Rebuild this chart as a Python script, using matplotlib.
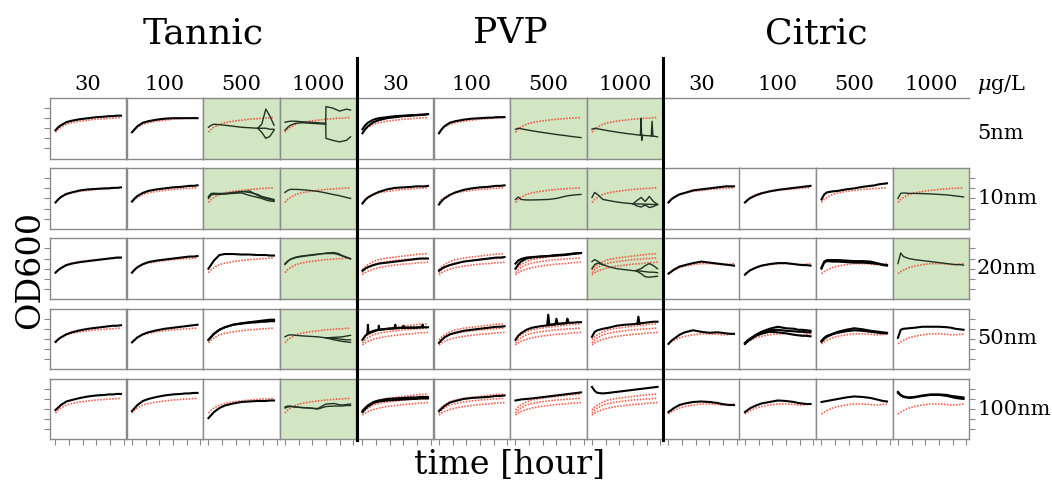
import numpy as np
import matplotlib
matplotlib.use('Agg')
import matplotlib.pyplot as plt
from matplotlib.lines import Line2D

plt.rcParams['font.family'] = 'DejaVu Serif'
plt.rcParams['mathtext.fontset'] = 'dejavuserif'

# sampling times (hours) shared by most curves
T = [0, 1, 2, 4, 6, 9, 12, 15, 18, 19.5, 21, 22.5, 24]

groups = ['Tannic', 'PVP', 'Citric']
doses = ['30', '100', '500', '1000']
sizes = ['5nm', '10nm', '20nm', '50nm', '100nm']

# control (no particles), drawn dotted red
ctrl_mid = [0.26, 0.29, 0.31, 0.34, 0.355, 0.37, 0.38, 0.39, 0.395, 0.40, 0.40, 0.405, 0.405]
ctrl_high = [0.29, 0.32, 0.34, 0.37, 0.39, 0.405, 0.415, 0.425, 0.435, 0.44, 0.445, 0.445, 0.45]
ctrl_low = [0.24, 0.26, 0.275, 0.295, 0.31, 0.325, 0.335, 0.345, 0.35, 0.355, 0.36, 0.36, 0.365]
ctrl_citric = [0.25, 0.27, 0.285, 0.31, 0.325, 0.34, 0.35, 0.35, 0.345, 0.34, 0.34, 0.345, 0.35]

ctrl_rows = {
    'Tannic': ['mid', 'mid', 'mid', 'mid', 'mid'],
    'PVP': ['mid', 'mid', 'spread', 'spread', 'spread'],
    'Citric': [None, 'mid', 'hump', 'hump', 'hump'],
}

# treated cultures: one list per panel, curves either on T or given as (times, values)
tannic_5nm = [
    [[0.28, 0.31, 0.33, 0.36, 0.375, 0.39, 0.40, 0.41, 0.415, 0.42, 0.42, 0.425, 0.425]],
    [[0.26, 0.29, 0.32, 0.355, 0.37, 0.385, 0.395, 0.40, 0.40, 0.40, 0.40, 0.40, 0.40]],
    [[0.31, 0.33, 0.34, 0.335, 0.33, 0.32, 0.31, 0.305, 0.30, 0.30, 0.30, 0.29, 0.29],
     ([18, 19.5, 21, 22.5, 24], [0.30, 0.34, 0.49, 0.42, 0.33]),
     ([18, 19.5, 21, 22.5, 24], [0.30, 0.26, 0.20, 0.22, 0.28])],
    [([0, 1, 2, 4, 6, 9, 12, 14.9, 15, 17.5, 20, 22.5, 24],
      [0.36, 0.365, 0.37, 0.37, 0.365, 0.36, 0.355, 0.35, 0.515, 0.50, 0.47, 0.49, 0.48]),
     ([14.9, 15, 17.5, 20, 22.5, 24], [0.35, 0.20, 0.18, 0.165, 0.18, 0.215]),
     ([0, 1, 2, 4, 6, 9, 12, 14.9], [0.28, 0.31, 0.33, 0.35, 0.355, 0.35, 0.345, 0.34])],
]
tannic_10nm = [
    [[0.26, 0.29, 0.315, 0.345, 0.36, 0.38, 0.39, 0.395, 0.40, 0.40, 0.405, 0.405, 0.41]],
    [[0.27, 0.30, 0.325, 0.355, 0.375, 0.39, 0.40, 0.41, 0.415, 0.42, 0.425, 0.425, 0.43]],
    [[0.31, 0.35, 0.35, 0.345, 0.345, 0.355, 0.37, 0.36, 0.34, 0.32, 0.31, 0.30, 0.29],
     [0.30, 0.335, 0.34, 0.34, 0.345, 0.35, 0.355, 0.33, 0.31, 0.30, 0.285, 0.275, 0.27],
     [0.32, 0.345, 0.35, 0.35, 0.35, 0.36, 0.365, 0.375, 0.33, 0.31, 0.30, 0.29, 0.28]],
    [[0.36, 0.38, 0.39, 0.39, 0.387, 0.38, 0.37, 0.355, 0.337, 0.33, 0.32, 0.31, 0.30]],
]
tannic_20nm = [
    [[0.26, 0.285, 0.305, 0.335, 0.35, 0.365, 0.375, 0.385, 0.395, 0.40, 0.405, 0.41, 0.41]],
    [[0.26, 0.29, 0.315, 0.345, 0.365, 0.38, 0.39, 0.40, 0.41, 0.415, 0.42, 0.42, 0.425]],
    [[0.30, 0.34, 0.38, 0.435, 0.445, 0.445, 0.44, 0.44, 0.435, 0.435, 0.435, 0.43, 0.43]],
    [[0.34, 0.37, 0.39, 0.41, 0.42, 0.43, 0.44, 0.455, 0.46, 0.45, 0.43, 0.415, 0.40],
     [0.35, 0.375, 0.395, 0.415, 0.425, 0.435, 0.445, 0.45, 0.45, 0.44, 0.425, 0.41, 0.395]],
]
tannic_50nm = [
    [[0.27, 0.295, 0.315, 0.345, 0.365, 0.385, 0.40, 0.41, 0.42, 0.425, 0.43, 0.43, 0.435]],
    [[0.265, 0.29, 0.315, 0.345, 0.365, 0.385, 0.40, 0.41, 0.42, 0.425, 0.43, 0.435, 0.44]],
    [[0.29, 0.32, 0.35, 0.39, 0.415, 0.44, 0.45, 0.46, 0.465, 0.47, 0.47, 0.475, 0.475],
     [0.29, 0.32, 0.35, 0.39, 0.415, 0.44, 0.455, 0.465, 0.475, 0.48, 0.485, 0.49, 0.49]],
    [[0.32, 0.335, 0.34, 0.335, 0.33, 0.325, 0.32, 0.31, 0.305, 0.30, 0.295, 0.29, 0.29],
     ([15, 18, 21, 24], [0.31, 0.315, 0.32, 0.335]),
     ([15, 18, 21, 24], [0.31, 0.29, 0.275, 0.265])],
]
tannic_100nm = [
    [[0.29, 0.315, 0.34, 0.375, 0.39, 0.41, 0.425, 0.435, 0.44, 0.445, 0.445, 0.45, 0.45]],
    [[0.28, 0.31, 0.34, 0.38, 0.40, 0.42, 0.435, 0.445, 0.45, 0.455, 0.455, 0.46, 0.46]],
    [[0.21, 0.24, 0.27, 0.31, 0.335, 0.355, 0.37, 0.375, 0.38, 0.38, 0.38, 0.385, 0.385]],
    [[0.32, 0.33, 0.33, 0.32, 0.315, 0.31, 0.30, 0.325, 0.33, 0.33, 0.33, 0.335, 0.335],
     [0.31, 0.32, 0.325, 0.32, 0.315, 0.31, 0.305, 0.35, 0.355, 0.345, 0.34, 0.345, 0.35]],
]

pvp_5nm = [
    [[0.29, 0.33, 0.355, 0.385, 0.40, 0.41, 0.42, 0.425, 0.43, 0.43, 0.435, 0.435, 0.44],
     [0.25, 0.29, 0.32, 0.36, 0.38, 0.40, 0.41, 0.42, 0.425, 0.43, 0.43, 0.435, 0.44]],
    [[0.25, 0.29, 0.32, 0.355, 0.37, 0.385, 0.395, 0.40, 0.405, 0.405, 0.41, 0.41, 0.41]],
    [[0.29, 0.30, 0.295, 0.285, 0.275, 0.262, 0.25, 0.238, 0.228, 0.222, 0.217, 0.212, 0.207]],
    [[0.29, 0.30, 0.295, 0.285, 0.275, 0.262, 0.25, 0.24, 0.23, 0.228, 0.225, 0.222, 0.215],
     ([17.7, 18, 18.2, 18.5], [0.23, 0.40, 0.18, 0.23]),
     ([21.7, 22, 22.3], [0.225, 0.37, 0.222])],
]
pvp_10nm = [
    [[0.25, 0.285, 0.31, 0.34, 0.365, 0.39, 0.405, 0.41, 0.415, 0.42, 0.42, 0.42, 0.425]],
    [[0.24, 0.275, 0.30, 0.335, 0.36, 0.385, 0.40, 0.41, 0.415, 0.42, 0.425, 0.425, 0.43]],
    [[0.29, 0.315, 0.29, 0.285, 0.285, 0.287, 0.29, 0.30, 0.32, 0.328, 0.333, 0.337, 0.34]],
    [[0.31, 0.36, 0.34, 0.29, 0.28, 0.265, 0.255, 0.247, 0.245, 0.243, 0.242, 0.24, 0.24],
     ([15, 16.5, 18, 19.5, 21, 22.5, 24], [0.247, 0.28, 0.31, 0.27, 0.32, 0.27, 0.24]),
     ([15, 16.5, 18, 19.5, 21, 22.5, 24], [0.247, 0.225, 0.215, 0.235, 0.21, 0.22, 0.24])],
]
pvp_20nm = [
    [[0.28, 0.30, 0.315, 0.335, 0.35, 0.36, 0.37, 0.38, 0.39, 0.395, 0.40, 0.40, 0.40]],
    [[0.28, 0.30, 0.315, 0.335, 0.35, 0.37, 0.38, 0.39, 0.40, 0.405, 0.41, 0.41, 0.415]],
    [[0.30, 0.34, 0.37, 0.40, 0.41, 0.42, 0.425, 0.435, 0.44, 0.445, 0.45, 0.455, 0.455],
     [0.35, 0.38, 0.395, 0.41, 0.415, 0.42, 0.425, 0.43, 0.435, 0.44, 0.445, 0.45, 0.455]],
    [[0.37, 0.39, 0.375, 0.34, 0.32, 0.30, 0.29, 0.28, 0.275, 0.27, 0.265, 0.265, 0.26],
     ([0, 1, 2, 4], [0.30, 0.34, 0.355, 0.34]),
     ([16, 18, 19.5, 21, 22.5, 24], [0.28, 0.30, 0.33, 0.35, 0.33, 0.30]),
     ([16, 18, 19.5, 21, 22.5, 24], [0.28, 0.25, 0.22, 0.215, 0.22, 0.225])],
]
pvp_50nm = [
    [[0.29, 0.33, 0.355, 0.38, 0.39, 0.40, 0.405, 0.41, 0.41, 0.41, 0.415, 0.415, 0.415],
     ([1.8, 2, 2.2, 5.8, 6, 6.2, 11.8, 12, 12.2, 14.8, 15, 15.2, 21.8, 22, 22.2],
      [0.35, 0.44, 0.355, 0.39, 0.43, 0.39, 0.405, 0.44, 0.405, 0.41, 0.43, 0.41, 0.415, 0.44, 0.415])],
    [[0.26, 0.29, 0.315, 0.345, 0.36, 0.38, 0.39, 0.40, 0.41, 0.415, 0.42, 0.42, 0.425]],
    [[0.29, 0.33, 0.355, 0.39, 0.41, 0.425, 0.435, 0.445, 0.455, 0.46, 0.46, 0.465, 0.465],
     ([11.6, 12, 12.4, 14.6, 15, 15.4, 18.6, 19, 19.4],
      [0.435, 0.54, 0.44, 0.445, 0.50, 0.45, 0.455, 0.50, 0.46])],
    [[0.32, 0.37, 0.385, 0.40, 0.41, 0.43, 0.44, 0.445, 0.455, 0.46, 0.465, 0.47, 0.47],
     ([16.6, 17, 17.4], [0.45, 0.52, 0.45])],
]
pvp_100nm = [
    [[0.28, 0.31, 0.335, 0.37, 0.385, 0.40, 0.405, 0.41, 0.415, 0.415, 0.42, 0.42, 0.42],
     [0.27, 0.30, 0.325, 0.36, 0.375, 0.385, 0.39, 0.395, 0.40, 0.40, 0.405, 0.405, 0.405]],
    [[0.28, 0.305, 0.33, 0.365, 0.38, 0.40, 0.41, 0.415, 0.42, 0.425, 0.43, 0.43, 0.435]],
    [[0.385, 0.39, 0.395, 0.40, 0.405, 0.415, 0.425, 0.435, 0.445, 0.45, 0.455, 0.46, 0.465]],
    [[0.52, 0.48, 0.46, 0.455, 0.46, 0.47, 0.48, 0.49, 0.50, 0.505, 0.51, 0.515, 0.52]],
]

citric_10nm = [
    [[0.26, 0.29, 0.31, 0.34, 0.355, 0.38, 0.39, 0.40, 0.41, 0.415, 0.42, 0.42, 0.42]],
    [[0.26, 0.285, 0.305, 0.33, 0.35, 0.37, 0.385, 0.395, 0.405, 0.41, 0.415, 0.42, 0.425]],
    [[0.29, 0.34, 0.36, 0.37, 0.375, 0.39, 0.40, 0.415, 0.425, 0.43, 0.44, 0.445, 0.45]],
    [[0.30, 0.35, 0.355, 0.35, 0.35, 0.348, 0.345, 0.34, 0.335, 0.33, 0.325, 0.32, 0.315]],
]
citric_20nm = [
    [[0.25, 0.27, 0.29, 0.32, 0.335, 0.355, 0.37, 0.36, 0.35, 0.345, 0.34, 0.335, 0.33]],
    [[0.24, 0.265, 0.285, 0.31, 0.33, 0.345, 0.355, 0.355, 0.345, 0.34, 0.335, 0.335, 0.33]],
    [[0.31, 0.37, 0.385, 0.385, 0.385, 0.38, 0.375, 0.375, 0.37, 0.36, 0.35, 0.34, 0.335],
     [0.30, 0.36, 0.375, 0.37, 0.37, 0.365, 0.36, 0.36, 0.355, 0.35, 0.345, 0.335, 0.33]],
    [[0.35, 0.455, 0.42, 0.40, 0.39, 0.38, 0.37, 0.36, 0.35, 0.345, 0.34, 0.34, 0.335]],
]
citric_50nm = [
    [[0.25, 0.28, 0.30, 0.34, 0.365, 0.385, 0.37, 0.36, 0.365, 0.36, 0.355, 0.35, 0.35]],
    [[0.26, 0.285, 0.305, 0.34, 0.37, 0.40, 0.42, 0.405, 0.40, 0.39, 0.39, 0.385, 0.38],
     [0.25, 0.28, 0.30, 0.335, 0.36, 0.385, 0.39, 0.38, 0.375, 0.37, 0.37, 0.365, 0.365],
     [0.25, 0.275, 0.295, 0.33, 0.35, 0.37, 0.365, 0.355, 0.34, 0.335, 0.33, 0.33, 0.325]],
    [[0.28, 0.31, 0.33, 0.35, 0.37, 0.39, 0.405, 0.395, 0.38, 0.375, 0.37, 0.365, 0.36],
     [0.27, 0.30, 0.32, 0.345, 0.36, 0.375, 0.385, 0.38, 0.37, 0.365, 0.36, 0.355, 0.355]],
    [[0.31, 0.39, 0.40, 0.405, 0.41, 0.42, 0.42, 0.42, 0.415, 0.41, 0.40, 0.395, 0.39]],
]
citric_100nm = [
    [[0.27, 0.29, 0.31, 0.34, 0.355, 0.37, 0.375, 0.37, 0.36, 0.35, 0.345, 0.34, 0.34]],
    [[0.27, 0.29, 0.31, 0.335, 0.355, 0.37, 0.385, 0.38, 0.37, 0.36, 0.355, 0.35, 0.35]],
    [[0.37, 0.375, 0.38, 0.39, 0.40, 0.415, 0.425, 0.42, 0.41, 0.40, 0.39, 0.38, 0.375]],
    [[0.47, 0.44, 0.425, 0.415, 0.42, 0.435, 0.445, 0.445, 0.44, 0.43, 0.425, 0.42, 0.415],
     [0.46, 0.435, 0.42, 0.41, 0.415, 0.43, 0.44, 0.44, 0.43, 0.42, 0.41, 0.405, 0.40]],
]

panel_data = {
    'Tannic': [tannic_5nm, tannic_10nm, tannic_20nm, tannic_50nm, tannic_100nm],
    'PVP': [pvp_5nm, pvp_10nm, pvp_20nm, pvp_50nm, pvp_100nm],
    'Citric': [None, citric_10nm, citric_20nm, citric_50nm, citric_100nm],
}

# panels highlighted in green
shaded = [('5nm', 'Tannic', '500'), ('5nm', 'Tannic', '1000'), ('5nm', 'PVP', '500'), ('5nm', 'PVP', '1000'),
          ('10nm', 'Tannic', '500'), ('10nm', 'Tannic', '1000'), ('10nm', 'PVP', '500'),
          ('10nm', 'PVP', '1000'), ('10nm', 'Citric', '1000'),
          ('20nm', 'Tannic', '1000'), ('20nm', 'PVP', '1000'), ('20nm', 'Citric', '1000'),
          ('50nm', 'Tannic', '1000'), ('100nm', 'Tannic', '1000')]

#===================================================================================================
W, H = 1052, 482
fig = plt.figure(figsize=(W / 100, H / 100), dpi=100)

def fx(x):
    return x / W

def fy(y):
    return 1 - y / H

group_x0 = [50, 357, 663]
pw, ph = 76.5, 60.5
row_top = [98, 168.2, 238.4, 308.6, 378.8]
green = '#d2e6c4'
red = '#f04a34'
edge = '#8a8a8a'

for gi, g in enumerate(groups):
    for ri, size in enumerate(sizes):
        rows = panel_data[g][ri]
        if rows is None:
            continue
        kind = ctrl_rows[g][ri]
        if kind == 'spread':
            ctrls = [ctrl_high, ctrl_mid, ctrl_low]
        elif kind == 'hump':
            ctrls = [ctrl_citric]
        else:
            ctrls = [ctrl_mid]
        for ci, dose in enumerate(doses):
            x0 = group_x0[gi] + ci * pw
            ax = fig.add_axes([fx(x0), fy(row_top[ri] + ph), pw / W, ph / H])
            hl = (size, g, dose) in shaded
            ax.set_facecolor(green if hl else 'white')
            for c in ctrls:
                ax.plot(T, c, color=red, ls=(0, (1, 0.8)), lw=1.2, alpha=0.85, zorder=2)
            for curve in rows[ci]:
                if isinstance(curve, tuple):
                    t, v = curve
                else:
                    t, v = T, curve
                if hl:
                    ax.plot(t, v, color='#223222', lw=1.0, zorder=3)
                else:
                    ax.plot(t, v, color='black', lw=1.5, zorder=3)
            ax.set_xlim(-2, 26)
            ax.set_ylim(0, 0.6)
            for s in ax.spines.values():
                s.set_color(edge)
                s.set_linewidth(1.0)
            ax.set_xticks([0, 5, 10, 15, 20, 25] if ri == len(sizes) - 1 else [])
            left = (gi == 0 and ci == 0)
            right = (gi == 2 and ci == 3)
            ax.set_yticks([0.1, 0.2, 0.3, 0.4, 0.5] if (left or right) else [])
            ax.tick_params(axis='both', length=4, width=0.8, color=edge,
                           labelbottom=False, labelleft=False, labelright=False,
                           left=left, right=right)

# empty Citric 5nm row: only its top rule
fig.add_artist(Line2D([fx(663), fx(969)], [fy(98), fy(98)], color=edge, lw=1.0))

# heavy separators between particle coatings
for xs in [356.5, 662.5]:
    fig.add_artist(Line2D([fx(xs), fx(xs)], [fy(58), fy(440)], color='black', lw=2.2))

for gi, g in enumerate(groups):
    xc = group_x0[gi] + 2 * pw
    fig.text(fx(xc), fy(33), g, ha='center', va='center', fontsize=26)
    for ci, dose in enumerate(doses):
        fig.text(fx(group_x0[gi] + ci * pw + pw / 2), fy(90), dose, ha='center', va='baseline', fontsize=15)
fig.text(fx(977), fy(90), r'$\mu$g/L', ha='left', va='baseline', fontsize=15)

for ri, size in enumerate(sizes):
    dy = 5 if ri == 0 else 0
    fig.text(fx(977), fy(row_top[ri] + ph / 2 + dy), size, ha='left', va='center', fontsize=15)

fig.text(fx(30), fy(270), 'OD600', rotation=90, ha='center', va='center', fontsize=24)
fig.text(fx(510), fy(465), 'time [hour]', ha='center', va='center', fontsize=24)

plt.savefig('out.png', dpi=100)
